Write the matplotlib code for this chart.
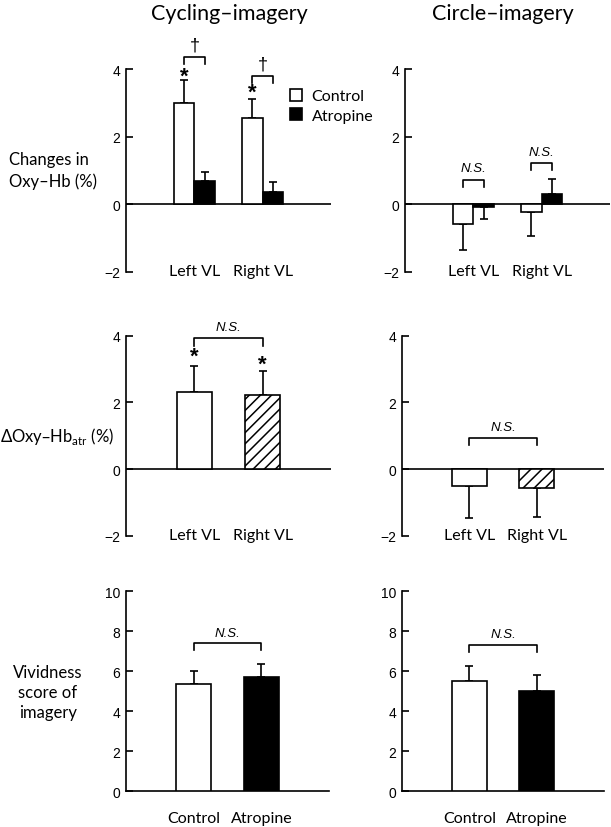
import matplotlib
matplotlib.use("Agg")
import matplotlib.pyplot as plt
from matplotlib.patches import Patch
import numpy as np

# ---- data ----
muscles = ["Left VL", "Right VL"]
conditions = ["Control", "Atropine"]

cyc_oxy_control = [3.00, 2.55]
cyc_oxy_control_sd = [0.68, 0.57]
cyc_oxy_atropine = [0.70, 0.35]
cyc_oxy_atropine_sd = [0.27, 0.32]

cir_oxy_control = [-0.58, -0.24]
cir_oxy_control_sd = [0.78, 0.71]
cir_oxy_atropine = [-0.09, 0.30]
cir_oxy_atropine_sd = [0.33, 0.44]

cyc_delta = [2.31, 2.21]
cyc_delta_sd = [0.78, 0.74]
cir_delta = [-0.50, -0.55]
cir_delta_sd = [0.97, 0.87]

cyc_vivid = [5.37, 5.70]
cyc_vivid_sd = [0.63, 0.67]
cir_vivid = [5.53, 5.03]
cir_vivid_sd = [0.72, 0.78]

LABEL_FONT = "Lato"
TICK_FONT = "Liberation Sans"
LW = 1.2
XLAB_FS = 11.5
YLAB_FS = 12

plt.rcParams["hatch.linewidth"] = 1.1

fig = plt.figure(figsize=(6.11, 8.28), dpi=100)

W, H = 611.0, 828.0

def make_ax(x0, y_top, x1, y_bot):
    return fig.add_axes([x0 / W, 1 - y_bot / H, (x1 - x0) / W, (y_bot - y_top) / H])

def style(ax, ylim, yticks, baseline=True):
    ax.set_xlim(0, 3)
    ax.set_ylim(*ylim)
    ax.set_yticks(yticks)
    ax.set_yticklabels(["\u22122" if t == -2 else str(t) for t in yticks],
                       fontfamily=TICK_FONT, fontsize=10)
    for s in ["top", "right", "bottom"]:
        ax.spines[s].set_visible(False)
    ax.spines["left"].set_linewidth(LW)
    ax.tick_params(axis="y", direction="in", length=5, width=LW, pad=4)
    ax.tick_params(axis="x", length=0)
    if baseline:
        ax.axhline(0, color="black", lw=LW, zorder=1)

def err(vals, sd):
    lo = [s if v < 0 else 0 for v, s in zip(vals, sd)]
    hi = [s if v >= 0 else 0 for v, s in zip(vals, sd)]
    return [lo, hi]

def bars(ax, x, vals, sd, color, hatch=None, width=0.3):
    ax.bar(x, vals, width=width, color=color, edgecolor="black", linewidth=LW,
           hatch=hatch, zorder=3)
    ax.errorbar(x, vals, yerr=err(vals, sd), fmt="none", ecolor="black",
                elinewidth=LW, capsize=3, capthick=LW, zorder=2)

def bracket(ax, x0, x1, y, leg, text, fs=9.5, ty=None, italic=True):
    ax.plot([x0, x0, x1, x1], [y - leg, y, y, y - leg], color="black", lw=LW,
            clip_on=False, zorder=4)
    if text:
        ax.text((x0 + x1) / 2, ty if ty is not None else y + 0.15, text,
                ha="center", va="center", fontsize=fs,
                fontstyle="italic" if italic else "normal",
                fontfamily=TICK_FONT, clip_on=False)

def star(ax, x, y):
    ax.text(x, y, "*", ha="center", va="center", fontsize=16,
            fontweight="bold", fontfamily=TICK_FONT, clip_on=False)

groups = np.array([1.0, 2.0])
hw = 0.15

# ---- top row: changes in Oxy-Hb ----
ax1 = make_ax(126, 70, 331, 273)
style(ax1, (-2, 4), [-2, 0, 2, 4])
bars(ax1, groups - hw, cyc_oxy_control, cyc_oxy_control_sd, "white")
bars(ax1, groups + hw, cyc_oxy_atropine, cyc_oxy_atropine_sd, "black")
ax1.set_xticks(groups)
ax1.set_xticklabels(muscles, fontfamily=LABEL_FONT, fontsize=XLAB_FS)
bracket(ax1, 1 - hw, 1 + hw, 4.34, 0.2, "\u2020", fs=13, ty=4.72, italic=False)
bracket(ax1, 2 - hw, 2 + hw, 3.80, 0.2, "\u2020", fs=13, ty=4.16, italic=False)
star(ax1, 1 - hw, 3.78)
star(ax1, 2 - hw, 3.30)

ax2 = make_ax(405, 70, 610, 273)
style(ax2, (-2, 4), [-2, 0, 2, 4])
bars(ax2, groups - hw, cir_oxy_control, cir_oxy_control_sd, "white")
bars(ax2, groups + hw, cir_oxy_atropine, cir_oxy_atropine_sd, "black")
ax2.set_xticks(groups)
ax2.set_xticklabels(muscles, fontfamily=LABEL_FONT, fontsize=XLAB_FS)
bracket(ax2, 1 - hw, 1 + hw, 0.71, 0.19, "N.S.", ty=1.08)
bracket(ax2, 2 - hw, 2 + hw, 1.23, 0.22, "N.S.", ty=1.56)

# legend in top-left panel
handles = [Patch(facecolor="white", edgecolor="black", linewidth=LW),
           Patch(facecolor="black", edgecolor="black", linewidth=LW)]
fig.legend(handles, conditions, loc="upper left",
           bbox_to_anchor=(290 / W, 1 - 90 / H), frameon=False,
           handlelength=0.75, handleheight=0.75, handletextpad=0.6,
           labelspacing=0.3, borderaxespad=0, borderpad=0,
           prop={"family": LABEL_FONT, "size": XLAB_FS})

# ---- middle row: delta Oxy-Hb atr ----
ax3 = make_ax(126, 336.7, 331, 537)
style(ax3, (-2, 4), [-2, 0, 2, 4])
bars(ax3, groups[:1], cyc_delta[:1], cyc_delta_sd[:1], "white", width=0.51)
bars(ax3, groups[1:], cyc_delta[1:], cyc_delta_sd[1:], "white", hatch="///", width=0.51)
ax3.set_xticks(groups)
ax3.set_xticklabels(muscles, fontfamily=LABEL_FONT, fontsize=XLAB_FS)
bracket(ax3, 1, 2, 3.93, 0.23, "N.S.", ty=4.25)
star(ax3, 1, 3.40)
star(ax3, 2, 3.14)

ax4 = make_ax(402, 336.7, 604, 537)
style(ax4, (-2, 4), [-2, 0, 2, 4])
bars(ax4, groups[:1], cir_delta[:1], cir_delta_sd[:1], "white", width=0.51)
bars(ax4, groups[1:], cir_delta[1:], cir_delta_sd[1:], "white", hatch="///", width=0.51)
ax4.set_xticks(groups)
ax4.set_xticklabels(muscles, fontfamily=LABEL_FONT, fontsize=XLAB_FS)
bracket(ax4, 1, 2, 0.95, 0.23, "N.S.", ty=1.26)

# ---- bottom row: vividness ----
ax5 = make_ax(126, 592.3, 329, 792.3)
style(ax5, (0, 10), [0, 2, 4, 6, 8, 10], baseline=False)
ax5.spines["bottom"].set_visible(True)
ax5.spines["bottom"].set_linewidth(LW)
bars(ax5, groups[:1], cyc_vivid[:1], cyc_vivid_sd[:1], "white", width=0.51)
bars(ax5, groups[1:], cyc_vivid[1:], cyc_vivid_sd[1:], "black", width=0.51)
ax5.set_xticks(groups)
ax5.set_xticklabels(conditions, fontfamily=LABEL_FONT, fontsize=XLAB_FS)
ax5.tick_params(axis="x", pad=14)
bracket(ax5, 1, 2, 7.40, 0.33, "N.S.", ty=7.9)

ax6 = make_ax(402, 592.3, 604, 792.3)
style(ax6, (0, 10), [0, 2, 4, 6, 8, 10], baseline=False)
ax6.spines["bottom"].set_visible(True)
ax6.spines["bottom"].set_linewidth(LW)
bars(ax6, groups[:1], cir_vivid[:1], cir_vivid_sd[:1], "white", width=0.51)
bars(ax6, groups[1:], cir_vivid[1:], cir_vivid_sd[1:], "black", width=0.51)
ax6.set_xticks(groups)
ax6.set_xticklabels(conditions, fontfamily=LABEL_FONT, fontsize=XLAB_FS)
ax6.tick_params(axis="x", pad=14)
bracket(ax6, 1, 2, 7.33, 0.38, "N.S.", ty=7.85)

# x tick labels of the top/middle rows sit at the -2 level
for ax in (ax1, ax2, ax3, ax4):
    ax.tick_params(axis="x", pad=-6)

# ---- titles and row labels ----
fig.text(229 / W, 1 - 14 / H, "Cycling\u2013imagery", ha="center", va="center",
         fontfamily=LABEL_FONT, fontsize=15.5)
fig.text(503 / W, 1 - 14 / H, "Circle\u2013imagery", ha="center", va="center",
         fontfamily=LABEL_FONT, fontsize=15.5)
fig.text(9 / W, 1 - 171 / H, "Changes in\nOxy\u2013Hb (%)", ha="left", va="center",
         fontfamily=LABEL_FONT, fontsize=YLAB_FS, linespacing=1.35)
fig.text(0 / W, 1 - 437 / H, "\u0394Oxy\u2013Hb$_{\\mathregular{atr}}$ (%)",
         ha="left", va="center", fontfamily=LABEL_FONT, fontsize=YLAB_FS)
fig.text(48 / W, 1 - 693 / H, "Vividness\nscore of\nimagery", ha="center", va="center",
         fontfamily=LABEL_FONT, fontsize=YLAB_FS, linespacing=1.3)

fig.savefig("out.png", dpi=100)
